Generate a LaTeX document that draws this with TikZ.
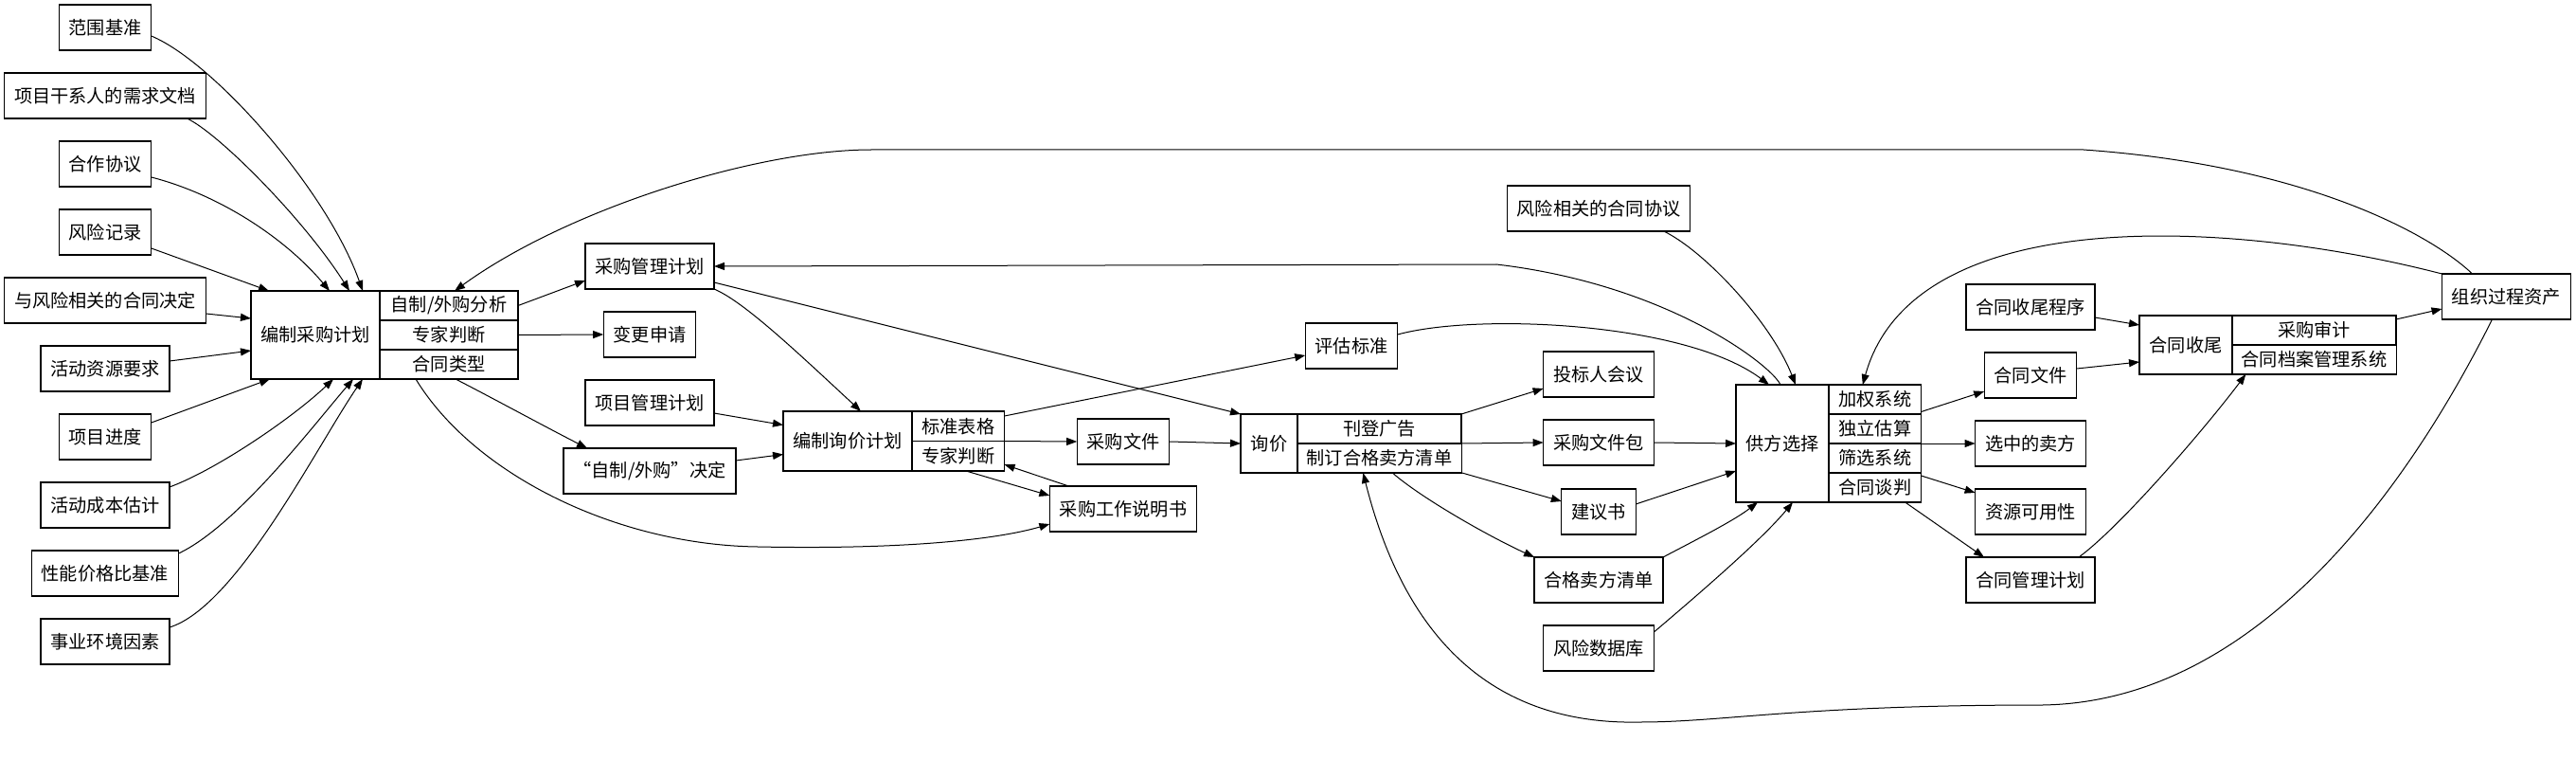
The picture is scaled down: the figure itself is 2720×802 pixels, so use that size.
\documentclass[tikz,border=0pt]{standalone}
\usepackage{fontspec}
\newfontfamily\cjk{Noto Sans CJK SC}
\usetikzlibrary{arrows.meta, positioning, calc}
\tikzset{
  box/.style={draw, line width=0.55pt, outer sep=0pt, inner xsep=5.2pt, inner ysep=0pt,
    minimum height=24pt, font={\cjk\fontsize{9.6pt}{11pt}\selectfont}},
  cell/.style={box, minimum height=15.5pt},
  arr/.style={-{Triangle[length=5.5pt,width=4pt]}, line width=0.5pt}
}

\begin{document}
\begin{tikzpicture}[x=0.5pt, y=-0.5pt]
\useasboundingbox (0,0) rectangle (2720,802);

\node[box] (scope) at (111,29) {范围基准};
\node[box] (stake) at (111,101) {项目干系人的需求文档};
\node[box] (coop) at (111,173) {合作协议};
\node[box] (riskreg) at (111,245) {风险记录};
\node[box] (riskdec) at (111,317) {与风险相关的合同决定};
\node[box] (actres) at (111,389) {活动资源要求};
\node[box] (sched) at (111,461) {项目进度};
\node[box] (costest) at (111,533) {活动成本估计};
\node[box] (perfbase) at (111,605) {性能价格比基准};
\node[box] (eef) at (111,677) {事业环境因素};

\node[box, anchor=west, minimum width=68pt, minimum height=46.5pt] (pp) at (265,353.5) {编制采购计划};
\node[cell, anchor=north west, minimum width=73pt] (pp1) at (pp.north east) {自制/外购分析};
\node[cell, below=0pt of pp1, minimum width=73pt] (pp2) {专家判断};
\node[cell, below=0pt of pp2, minimum width=73pt] (pp3) {合同类型};

\node[box] (pmp) at (686,281) {采购管理计划};
\node[box] (cr) at (686,353) {变更申请};
\node[box] (projplan) at (686,425) {项目管理计划};
\node[box] (mob) at (686,497) {“自制/外购”决定};

\node[box, anchor=west, minimum width=68pt, minimum height=31.5pt] (pc) at (827,465.5) {编制询价计划};
\node[cell, anchor=north west, minimum width=48.5pt, minimum height=15.75pt] (pc1) at (pc.north east) {标准表格};
\node[cell, below=0pt of pc1, minimum width=48.5pt, minimum height=15.75pt] (pc2) {专家判断};

\node[box] (procdocs) at (1186,466) {采购文件};
\node[box] (sow) at (1186,537) {采购工作说明书};
\node[box] (evalcrit) at (1427,365) {评估标准};

\node[box, anchor=west, minimum width=30pt, minimum height=31pt] (rr) at (1310,468) {询价};
\node[cell, anchor=north west, minimum width=86.5pt] (rr1) at (rr.north east) {刊登广告};
\node[cell, below=0pt of rr1, minimum width=86.5pt] (rr2) {制订合格卖方清单};

\node[box] (riskagr) at (1688,220) {风险相关的合同协议};
\node[box] (bidconf) at (1688,395) {投标人会议};
\node[box] (pkg) at (1688,467) {采购文件包};
\node[box] (proposal) at (1688,540) {建议书};
\node[box] (qsl) at (1688,612) {合格卖方清单};
\node[box] (riskdb) at (1688,684) {风险数据库};

\node[box, anchor=west, minimum width=49pt, minimum height=62pt] (ss) at (1833,468) {供方选择};
\node[cell, anchor=north west, minimum width=48.5pt] (ss1) at (ss.north east) {加权系统};
\node[cell, below=0pt of ss1, minimum width=48.5pt] (ss2) {独立估算};
\node[cell, below=0pt of ss2, minimum width=48.5pt] (ss3) {筛选系统};
\node[cell, below=0pt of ss3, minimum width=48.5pt] (ss4) {合同谈判};

\node[box] (closeproc) at (2144,324) {合同收尾程序};
\node[box] (contfile) at (2144,396) {合同文件};
\node[box] (selseller) at (2144,468) {选中的卖方};
\node[box] (resavail) at (2144,540) {资源可用性};
\node[box] (cmp) at (2144,612) {合同管理计划};

\node[box, anchor=west, minimum width=49pt, minimum height=31pt] (cc) at (2259,364) {合同收尾};
\node[cell, anchor=north west, minimum width=86.5pt] (cc1) at (cc.north east) {采购审计};
\node[cell, below=0pt of cc1, minimum width=86.5pt] (cc2) {合同档案管理系统};

\node[box] (opa) at (2646.5,313) {组织过程资产};

% inputs of the planning step
\draw[arr] ($(scope.east)+(0,9)$) .. controls (225,65) and (345,200) .. ($(pp.north west)+(118,0)$);
\draw[arr] ($(stake.south east)+(-20,0)$) .. controls (230,140) and (320,230) .. ($(pp.north west)+(104,0)$);
\draw[arr] ($(coop.east)+(0,14)$) .. controls (230,205) and (300,250) .. ($(pp.north west)+(83,0)$);
\draw[arr] ($(riskreg.east)+(0,17)$) -- ($(pp.north west)+(19,0)$);
\draw[arr] ($(riskdec.east)+(0,14)$) -- ($(pp.north west)+(0,29)$);
\draw[arr] ($(actres.east)+(0,-8)$) -- ($(pp.south west)+(0,-30)$);
\draw[arr] ($(sched.east)+(0,-15)$) -- ($(pp.south west)+(20,0)$);
\draw[arr] ($(costest.east)+(0,-19)$) .. controls (230,495) and (310,440) .. ($(pp.south west)+(87,0)$);
\draw[arr] ($(perfbase.east)+(0,-21)$) .. controls (250,555) and (330,450) .. ($(pp.south west)+(108,0)$);
\draw[arr] ($(eef.east)+(0,-15)$) .. controls (250,640) and (335,470) .. ($(pp.south west)+(118,0)$);

\draw[arr] (pp1.east) -- ($(pmp.south west)+(0,-9)$);
\draw[arr] (pp2.east) -- (cr.west);
\draw[arr] ($(pp3.south west)+(80,0)$) .. controls (520,420) and (575,450) .. ($(mob.north west)+(25,0)$);
\draw[arr] ($(pp3.south west)+(38,0)$) .. controls (500,500) and (650,575) .. (800,577)
  .. controls (950,580) and (1050,570) .. ($(sow.west)+(0,16)$);
\draw[arr] ($(opa.north)+(-36,0)$) .. controls (2570,250) and (2440,175) .. (2200,158) -- (920,158)
  .. controls (800,158) and (600,220) .. ($(pp1.north)+(6,0)$);

\draw[arr] (pmp.south east) .. controls (785,318) and (840,370) .. ($(pc.north west)+(82,0)$);
\draw[arr] ($(pmp.east)+(0,17)$) -- (rr.north west);
\draw[arr] ($(projplan.east)+(0,11)$) -- ($(pc.west)+(0,-17)$);
\draw[arr] ($(mob.east)+(0,-11)$) -- ($(pc.west)+(0,14)$);

\draw[arr] ($(pc1.north east)+(0,5)$) -- ($(evalcrit.west)+(0,10)$);
\draw[arr] (pc1.south east) -- (procdocs.west);
\draw[arr] ($(pc2.south west)+(57,0)$) -- ($(sow.north west)+(0,10)$);
\draw[arr] ($(sow.north west)+(20,0)$) -- ($(pc2.east)+(0,9)$);
\draw[arr] (procdocs.east) -- (rr.west);

\draw[arr] (rr1.north east) -- ($(bidconf.west)+(0,15)$);
\draw[arr] (rr1.south east) -- (pkg.west);
\draw[arr] (rr2.south east) -- ($(proposal.north west)+(0,13)$);
\draw[arr] ($(rr2.south west)+(101,0)$) .. controls (1500,525) and (1570,565) .. (qsl.north west);
\draw[arr] ($(opa.south west)+(53,0)$) .. controls (2560,480) and (2400,740) .. (2157,744)
  .. controls (1900,744) and (1820,762) .. (1732,762)
  .. controls (1600,765) and (1490,700) .. ($(rr2.south west)+(70,0)$);

% supplier selection
\draw[arr] (pkg.east) -- (ss.west);
\draw[arr] ($(proposal.east)+(0,-8)$) -- ($(ss.west)+(0,29)$);
\draw[arr] (qsl.north east) .. controls (1790,570) and (1830,550) .. ($(ss.south west)+(23,0)$);
\draw[arr] ($(riskdb.east)+(0,-17)$) .. controls (1790,630) and (1860,570) .. ($(ss.south west)+(60,0)$);
\draw[arr] ($(riskagr.south east)+(-28,0)$) .. controls (1800,265) and (1870,340) .. ($(ss.north west)+(63,0)$);
\draw[arr] ($(evalcrit.east)+(0,-12)$) .. controls (1560,330) and (1780,340) .. ($(ss.north west)+(35,0)$);
\draw[arr] ($(ss.north west)+(47,0)$) .. controls (1870,385) and (1760,300) .. (1580,279) -- (pmp.east);
\draw[arr] (opa.north west) .. controls (2350,230) and (2020,215) .. ($(ss1.north)+(-13,0)$);

\draw[arr] ($(ss1.east)+(0,13)$) -- ($(contfile.south west)+(0,-7)$);
\draw[arr] (ss2.south east) -- (selseller.west);
\draw[arr] ($(ss4.north east)+(0,3)$) -- ($(resavail.north west)+(0,4)$);
\draw[arr] ($(ss4.south east)+(-17,0)$) -- ($(cmp.north west)+(19,0)$);

% contract closure
\draw[arr] ($(closeproc.east)+(0,11)$) -- ($(cc.west)+(0,-21)$);
\draw[arr] ($(contfile.east)+(0,-7)$) -- ($(cc.west)+(0,18)$);
\draw[arr] ($(cmp.north east)+(-17,0)$) .. controls (2240,555) and (2330,450) .. ($(cc2.south west)+(15,0)$);
\draw[arr] ($(cc1.north east)+(0,4)$) -- ($(opa.west)+(0,13)$);
\end{tikzpicture}
\end{document}
